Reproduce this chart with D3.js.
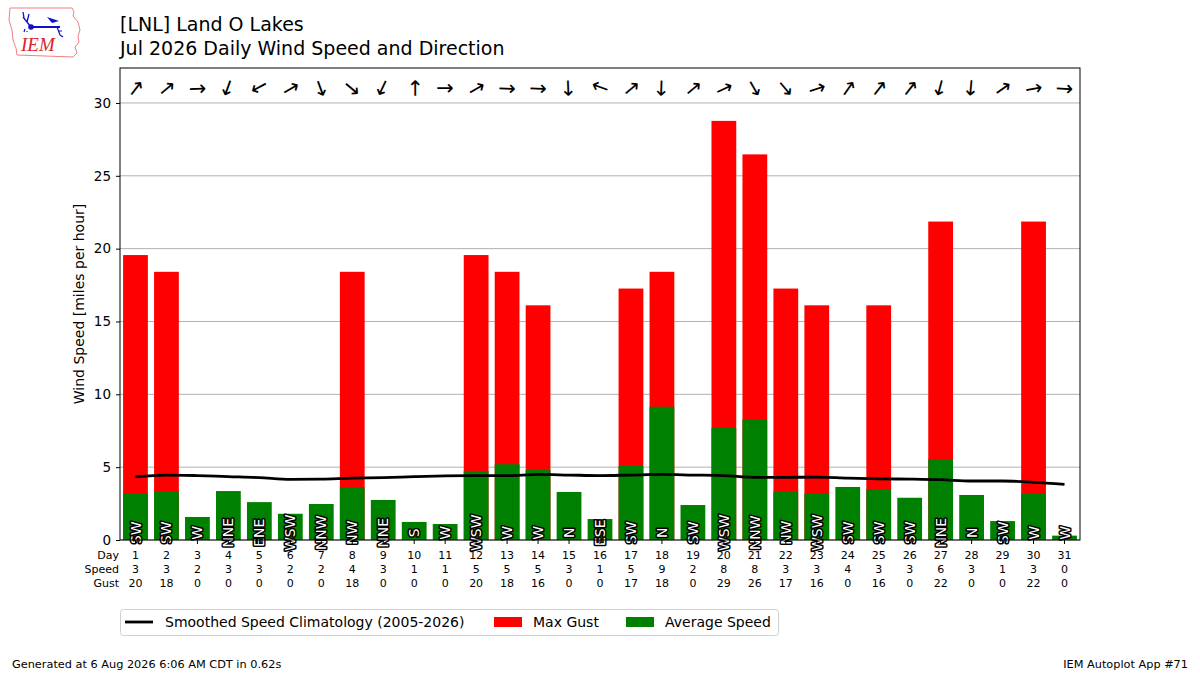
<!DOCTYPE html>
<html>
<head>
<meta charset="utf-8">
<script src="https://cdn.jsdelivr.net/npm/d3@7"></script>
<style>
  html, body { margin: 0; padding: 0; background: #fff; }
  svg { display: block; font-family: "DejaVu Sans", sans-serif; }
</style>
</head>
<body>
<svg id="chart" width="1200" height="675"></svg>
<script>
"use strict";
// Daily wind speed / gust bars with direction arrows + labels (IEM autoplot #71 look).

const days = d3.range(1, 32);
// average speed, mph (bar height) and the rounded value shown in the table
const avgSpeed = [3.2, 3.36, 1.58, 3.36, 2.6, 1.8, 2.47, 3.64, 2.75, 1.24, 1.1, 4.74, 5.2, 4.8, 3.3, 1.44,
  5.08, 9.15, 2.4, 7.7, 8.28, 3.32, 3.18, 3.64, 3.5, 2.9, 5.56, 3.09, 1.3, 3.18, 0.3];
const speedLabel = [3, 3, 2, 3, 3, 2, 2, 4, 3, 1, 1, 5, 5, 5, 3, 1, 5, 9, 2, 8, 8, 3, 3, 4, 3, 3, 6, 3, 1, 3, 0];
// max gust, mph (0 = no gust reported)
const maxGust = [19.56, 18.41, 0, 0, 0, 0, 0, 18.41, 0, 0, 0, 19.56, 18.41, 16.11, 0, 0,
  17.26, 18.41, 0, 28.77, 26.47, 17.26, 16.11, 0, 16.11, 0, 21.86, 0, 0, 21.86, 0];
const gustLabel = [20, 18, 0, 0, 0, 0, 0, 18, 0, 0, 0, 20, 18, 16, 0, 0, 17, 18, 0, 29, 26, 17, 16, 0, 16, 0, 22, 0, 0, 22, 0];
// vector-mean direction the wind comes from (deg) and its compass label
const dirDeg = [218, 230, 268, 20, 62, 240, 340, 310, 25, 180, 270, 240, 272, 272, 358, 110,
  230, 2, 230, 245, 330, 320, 252, 215, 218, 218, 15, 5, 235, 260, 273];
const dirLabel = ["SW", "SW", "W", "NNE", "ENE", "WSW", "NNW", "NW", "NNE", "S", "W", "WSW", "W", "W", "N", "ESE",
  "SW", "N", "SW", "WSW", "NNW", "NW", "WSW", "SW", "SW", "SW", "NNE", "N", "SW", "W", "W"];
// smoothed climatology of average speed, mph
const climo = [4.35, 4.46, 4.42, 4.35, 4.28, 4.16, 4.18, 4.25, 4.28, 4.35, 4.4, 4.42, 4.42, 4.5, 4.46, 4.42,
  4.46, 4.5, 4.46, 4.42, 4.3, 4.3, 4.32, 4.25, 4.2, 4.18, 4.14, 4.05, 4.05, 3.96, 3.82];
const yTicks = [0, 5, 10, 15, 20, 25, 30];

const svg = d3.select("#chart");
const m = { left: 120, right: 1080, top: 68, bottom: 540 };

const x = d3.scaleBand().domain(days).range([m.left, m.right]).paddingInner(0.2).paddingOuter(0.1);
const y = d3.scaleLinear().domain([0, 32.4]).range([m.bottom, m.top]);
const cx = (d) => x(d) + x.bandwidth() / 2;

// ---- header ----
svg.append("text").attr("x", 120).attr("y", 31).attr("font-size", 19).text("[LNL] Land O Lakes");
svg.append("text").attr("x", 120).attr("y", 55).attr("font-size", 19).text("Jul 2026 Daily Wind Speed and Direction");

// ---- logo (rough IEM mark) ----
const logo = svg.append("g");
logo.append("path")
  .attr("d", "M10,8 L72,8 L74,12 L73,16 L78,22 L80,30 L78,36 L79,42 L75,47 L77,53 L73,57 L17,55 L16,48 L13,40 L12,30 L9,20 Z")
  .attr("fill", "#fff").attr("stroke", "#f08080").attr("stroke-width", 1);
logo.append("line").attr("x1", 31).attr("y1", 27).attr("x2", 60).attr("y2", 27).attr("stroke", "#1010c8").attr("stroke-width", 2);
logo.append("circle").attr("cx", 31).attr("cy", 27).attr("r", 2.8).attr("fill", "#1010c8");
logo.append("path").attr("d", "M31,27 L23,17 M27,22 L29,14 M24,18 L23,12").attr("stroke", "#1010c8").attr("stroke-width", 1.3).attr("fill", "none");
logo.append("path").attr("d", "M47,17 L59,21 L52,23 Z").attr("fill", "#1010c8");
logo.append("path").attr("d", "M57,27 L60,35 M58,31 L62,31 M60,35 L63,37").attr("stroke", "#1010c8").attr("stroke-width", 1.2).attr("fill", "none");
logo.append("path").attr("d", "M25,29 L24,32 M27,31 L27,32").attr("stroke", "#1010c8").attr("stroke-width", 1.2);
logo.append("text").attr("x", 21).attr("y", 51).attr("font-family", "Liberation Serif, serif").attr("font-style", "italic")
  .attr("font-size", 19).attr("fill", "#e0202a").text("IEM");

// ---- grid ----
svg.append("g").selectAll("line").data(yTicks).enter().append("line")
  .attr("x1", m.left).attr("x2", m.right).attr("y1", (d) => y(d)).attr("y2", (d) => y(d))
  .attr("stroke", "#b0b0b0").attr("stroke-width", 1);

// ---- bars: gust behind, average in front ----
svg.append("g").selectAll("rect").data(days).enter().append("rect")
  .attr("x", (d) => x(d)).attr("width", x.bandwidth())
  .attr("y", (d, i) => y(maxGust[i])).attr("height", (d, i) => y(0) - y(maxGust[i]))
  .attr("fill", "#ff0000");
svg.append("g").selectAll("rect").data(days).enter().append("rect")
  .attr("x", (d) => x(d)).attr("width", x.bandwidth())
  .attr("y", (d, i) => y(avgSpeed[i])).attr("height", (d, i) => y(0) - y(avgSpeed[i]))
  .attr("fill", "#008000");

// ---- climatology line ----
svg.append("path").datum(climo)
  .attr("d", d3.line().curve(d3.curveMonotoneX).x((d, i) => cx(days[i])).y((d) => y(d)))
  .attr("fill", "none").attr("stroke", "#000").attr("stroke-width", 2.8);

// ---- direction labels at the base ----
svg.append("g").selectAll("text").data(days).enter().append("text")
  .attr("transform", (d) => "translate(" + cx(d) + "," + y(0.5) + ") rotate(-90)")
  .attr("text-anchor", "middle").attr("dy", "0.36em").attr("font-size", 14)
  .attr("fill", "#fff").attr("stroke", "#000").attr("stroke-width", 3).attr("stroke-linejoin", "round")
  .attr("paint-order", "stroke")
  .text((d, i) => dirLabel[i]);

// ---- arrows pointing the way the wind blows ----
svg.append("g").selectAll("text").data(days).enter().append("text")
  .attr("transform", (d, i) => "translate(" + cx(d) + ",88) rotate(" + (dirDeg[i] + 180 - 90) + ")")
  .attr("text-anchor", "middle").attr("dy", "0.35em").attr("font-size", 21)
  .text("\u2192");

// ---- axes ----
const yAxis = svg.append("g").attr("transform", "translate(" + m.left + ",0)")
  .call(d3.axisLeft(y).tickValues(yTicks).tickSize(4).tickPadding(5));
yAxis.select(".domain").remove();
yAxis.selectAll("text").attr("font-size", 13.5).attr("font-family", "DejaVu Sans, sans-serif");
yAxis.selectAll("line").attr("stroke", "#000");

const xAxis = svg.append("g").attr("transform", "translate(0," + m.bottom + ")")
  .call(d3.axisBottom(x).tickSize(4).tickFormat(""));
xAxis.select(".domain").remove();
xAxis.selectAll("line").attr("stroke", "#000");

svg.append("rect").attr("x", m.left).attr("y", m.top).attr("width", m.right - m.left).attr("height", m.bottom - m.top)
  .attr("fill", "none").attr("stroke", "#000").attr("stroke-width", 1);

svg.append("text").attr("transform", "translate(84," + ((m.top + m.bottom) / 2) + ") rotate(-90)")
  .attr("text-anchor", "middle").attr("font-size", 14).text("Wind Speed [miles per hour]");

// ---- table under the axis ----
const rows = [["Day", days], ["Speed", speedLabel], ["Gust", gustLabel]];
rows.forEach((r, k) => {
  const yy = 559 + k * 14;
  svg.append("text").attr("x", 119).attr("y", yy).attr("text-anchor", "end").attr("font-size", 11).text(r[0]);
  svg.append("g").selectAll("text").data(r[1]).enter().append("text")
    .attr("x", (d, i) => cx(days[i])).attr("y", yy).attr("text-anchor", "middle").attr("font-size", 11)
    .text((d) => d);
});

// ---- legend ----
const lg = svg.append("g");
lg.append("rect").attr("x", 120.5).attr("y", 609.5).attr("width", 658).attr("height", 26).attr("rx", 3)
  .attr("fill", "#fff").attr("stroke", "#d0d0d0");
lg.append("line").attr("x1", 125).attr("x2", 153).attr("y1", 622).attr("y2", 622).attr("stroke", "#000").attr("stroke-width", 2.8);
lg.append("text").attr("x", 165).attr("y", 627).attr("font-size", 14).text("Smoothed Speed Climatology (2005-2026)");
lg.append("rect").attr("x", 494).attr("y", 617).attr("width", 28).attr("height", 10).attr("fill", "#ff0000");
lg.append("text").attr("x", 533).attr("y", 627).attr("font-size", 14).text("Max Gust");
lg.append("rect").attr("x", 626).attr("y", 617).attr("width", 28).attr("height", 10).attr("fill", "#008000");
lg.append("text").attr("x", 665).attr("y", 627).attr("font-size", 14).text("Average Speed");

// ---- footer ----
svg.append("text").attr("x", 12).attr("y", 668).attr("font-size", 11.3).text("Generated at 6 Aug 2026 6:06 AM CDT in 0.62s");
svg.append("text").attr("x", 1188).attr("y", 668).attr("text-anchor", "end").attr("font-size", 11.3).text("IEM Autoplot App #71");
</script>
</body>
</html>
